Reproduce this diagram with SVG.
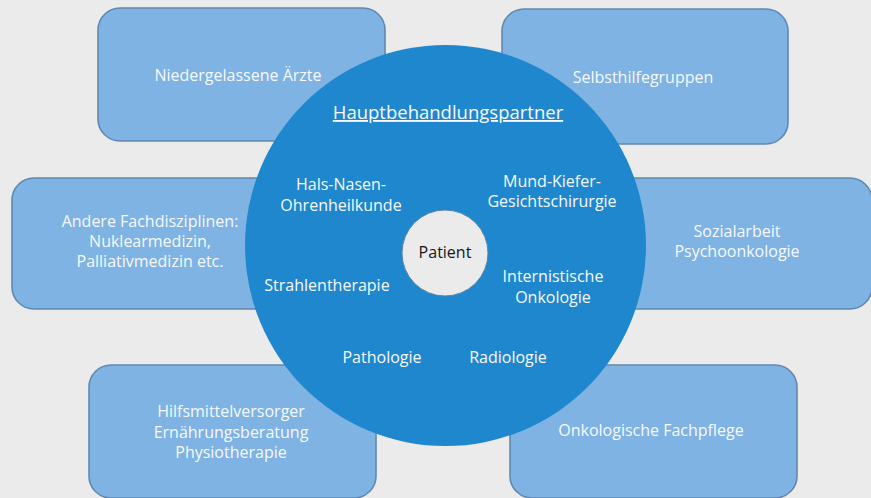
<svg xmlns="http://www.w3.org/2000/svg" width="871" height="498" viewBox="0 0 871 498">
<style>
.bg{fill:#ebebeb}
.box{fill:#7eb3e3;stroke:#6189af;stroke-width:1.6}
.big{fill:#1f87ce}
.pat{fill:#ebebeb;stroke:#5a86a8;stroke-width:1}
text{font-family:"Open Sans","Noto Sans",sans-serif;font-size:16px;fill:#f7f9fc;text-anchor:middle}
.dark{fill:#161616}
.title{font-size:18.5px;text-decoration:underline}
</style>
<rect class="bg" x="0" y="0" width="871" height="498"/>
<g id="connectors"/>
<g id="node-aerzte"><rect class="box" x="98" y="8" width="287" height="133" rx="22"/><text x="238" y="81">Niedergelassene Ärzte</text></g>
<g id="node-selbsthilfe"><rect class="box" x="502" y="9" width="286" height="135" rx="22"/><text x="643" y="83">Selbsthilfegruppen</text></g>
<g id="node-andere"><rect class="box" x="12" y="178" width="287" height="131" rx="22"/><text x="150" y="227">Andere Fachdisziplinen:</text><text x="150" y="247">Nuklearmedizin,</text><text x="150" y="267">Palliativmedizin etc.</text></g>
<g id="node-sozial"><rect class="box" x="585" y="178" width="287" height="131" rx="22"/><text x="737" y="237">Sozialarbeit</text><text x="737" y="257">Psychoonkologie</text></g>
<g id="node-hilfsmittel"><rect class="box" x="89" y="365" width="287" height="133" rx="22"/><text x="231" y="417">Hilfsmittelversorger</text><text x="231" y="438">Ernährungsberatung</text><text x="231" y="458">Physiotherapie</text></g>
<g id="node-fachpflege"><rect class="box" x="510" y="365" width="287" height="133" rx="22"/><text x="651" y="436">Onkologische Fachpflege</text></g>
<g id="node-haupt"><circle class="big" cx="445.5" cy="245.5" r="200.5"/><text class="title" x="448" y="119">Hauptbehandlungspartner</text></g>
<g id="node-hno"><text x="341" y="190">Hals-Nasen-</text><text x="341" y="211">Ohrenheilkunde</text></g>
<g id="node-mkg"><text x="552" y="187">Mund-Kiefer-</text><text x="552" y="207">Gesichtschirurgie</text></g>
<g id="node-strahlen"><text x="327" y="291">Strahlentherapie</text></g>
<g id="node-intern"><text x="553" y="282">Internistische</text><text x="553" y="303">Onkologie</text></g>
<g id="node-patho"><text x="382" y="363">Pathologie</text></g>
<g id="node-radio"><text x="508" y="363">Radiologie</text></g>
<g id="node-patient"><circle class="pat" cx="445" cy="253" r="43"/><text class="dark" x="445" y="258">Patient</text></g>
</svg>
